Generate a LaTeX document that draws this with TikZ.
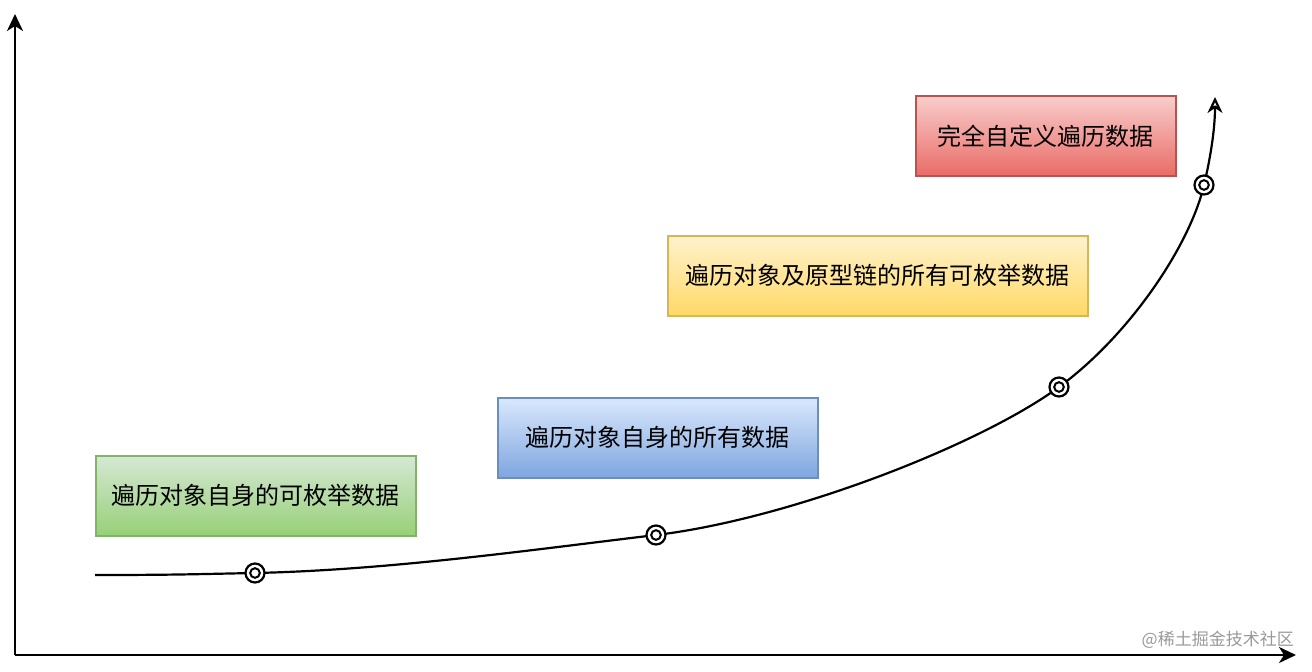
\documentclass[tikz,border=0pt]{standalone}
\usepackage{fontspec}
\setmainfont{Noto Sans CJK SC}
\usetikzlibrary{arrows.meta}
\definecolor{GreenA}{HTML}{82B366}
\definecolor{GreenT}{HTML}{D5E8D4}
\definecolor{GreenB}{HTML}{97D077}
\definecolor{BlueA}{HTML}{6C8EBF}
\definecolor{BlueT}{HTML}{DAE8FC}
\definecolor{BlueB}{HTML}{7EA6E0}
\definecolor{YellowA}{HTML}{D6B656}
\definecolor{YellowT}{HTML}{FFF2CC}
\definecolor{YellowB}{HTML}{FFD966}
\definecolor{RedA}{HTML}{B85450}
\definecolor{RedT}{HTML}{F8CECC}
\definecolor{RedB}{HTML}{EA6B66}
\tikzset{
  stage/.style={draw, line width=1.6pt, anchor=north west, font=\fontsize{24}{28}\selectfont, inner sep=0pt, align=center},
  lvA/.style={top color=GreenT, bottom color=GreenB, draw=GreenA},
  lvB/.style={top color=BlueT, bottom color=BlueB, draw=BlueA},
  lvC/.style={top color=YellowT, bottom color=YellowB, draw=YellowA},
  lvD/.style={top color=RedT, bottom color=RedB, draw=RedA},
  axisline/.style={line width=2.2pt, -{Stealth[length=17pt,width=16pt,inset=5pt]}},
  growline/.style={line width=2.2pt, -{Stealth[open,length=16pt,width=15pt,inset=5pt]}},
  ring/.style={circle, draw, line width=2.2pt, fill=white, minimum size=19pt, inner sep=0pt, path picture={\draw[line width=2pt] (path picture bounding box.center) circle (4.8pt);}}
}
\begin{document}
\begin{tikzpicture}[x=1pt, y=-1pt]
  \useasboundingbox (0,0) rectangle (1312,672);
  % axes
  \coordinate (o) at (15,655);
  \coordinate (ytop) at (15,14);
  \coordinate (xend) at (1296,655);
  \draw[axisline] (o) -- (ytop);
  \draw[axisline] (o) -- (xend);

  % stages
  \node[stage,lvA,minimum width=320pt,minimum height=80pt] (s1) at (95,455) {遍历对象自身的可枚举数据};
  \node[stage,lvB,minimum width=320pt,minimum height=80pt] (s2) at (497,397) {遍历对象自身的所有数据};
  \node[stage,lvC,minimum width=420pt,minimum height=80pt] (s3) at (667,235) {遍历对象及原型链的所有可枚举数据};
  \node[stage,lvD,minimum width=260pt,minimum height=80pt] (s4) at (915,95) {完全自定义遍历数据};

  % growth curve
  \coordinate (c0) at (95,575);
  \coordinate (m1) at (255,573);
  \coordinate (m2) at (656,535);
  \coordinate (m3) at (1059,387);
  \coordinate (m4) at (1204,185);
  \coordinate (c5) at (1215,97);
  \draw[growline] (c0) .. controls (180,575) and (200,574) .. (m1)
    .. controls (390,570) and (530,550) .. (m2)
    .. controls (790,519) and (980,445) .. (m3)
    .. controls (1130,335) and (1190,245) .. (m4)
    .. controls (1212,151) and (1215,125) .. (c5);
  \foreach \i in {1,...,4}
    \node[ring] (r\i) at (m\i) {};

  \node[text=black!40, font=\fontsize{17}{20}\selectfont, anchor=east, inner sep=0pt] (mark) at (1294,640) {@稀土掘金技术社区};
\end{tikzpicture}
\end{document}
